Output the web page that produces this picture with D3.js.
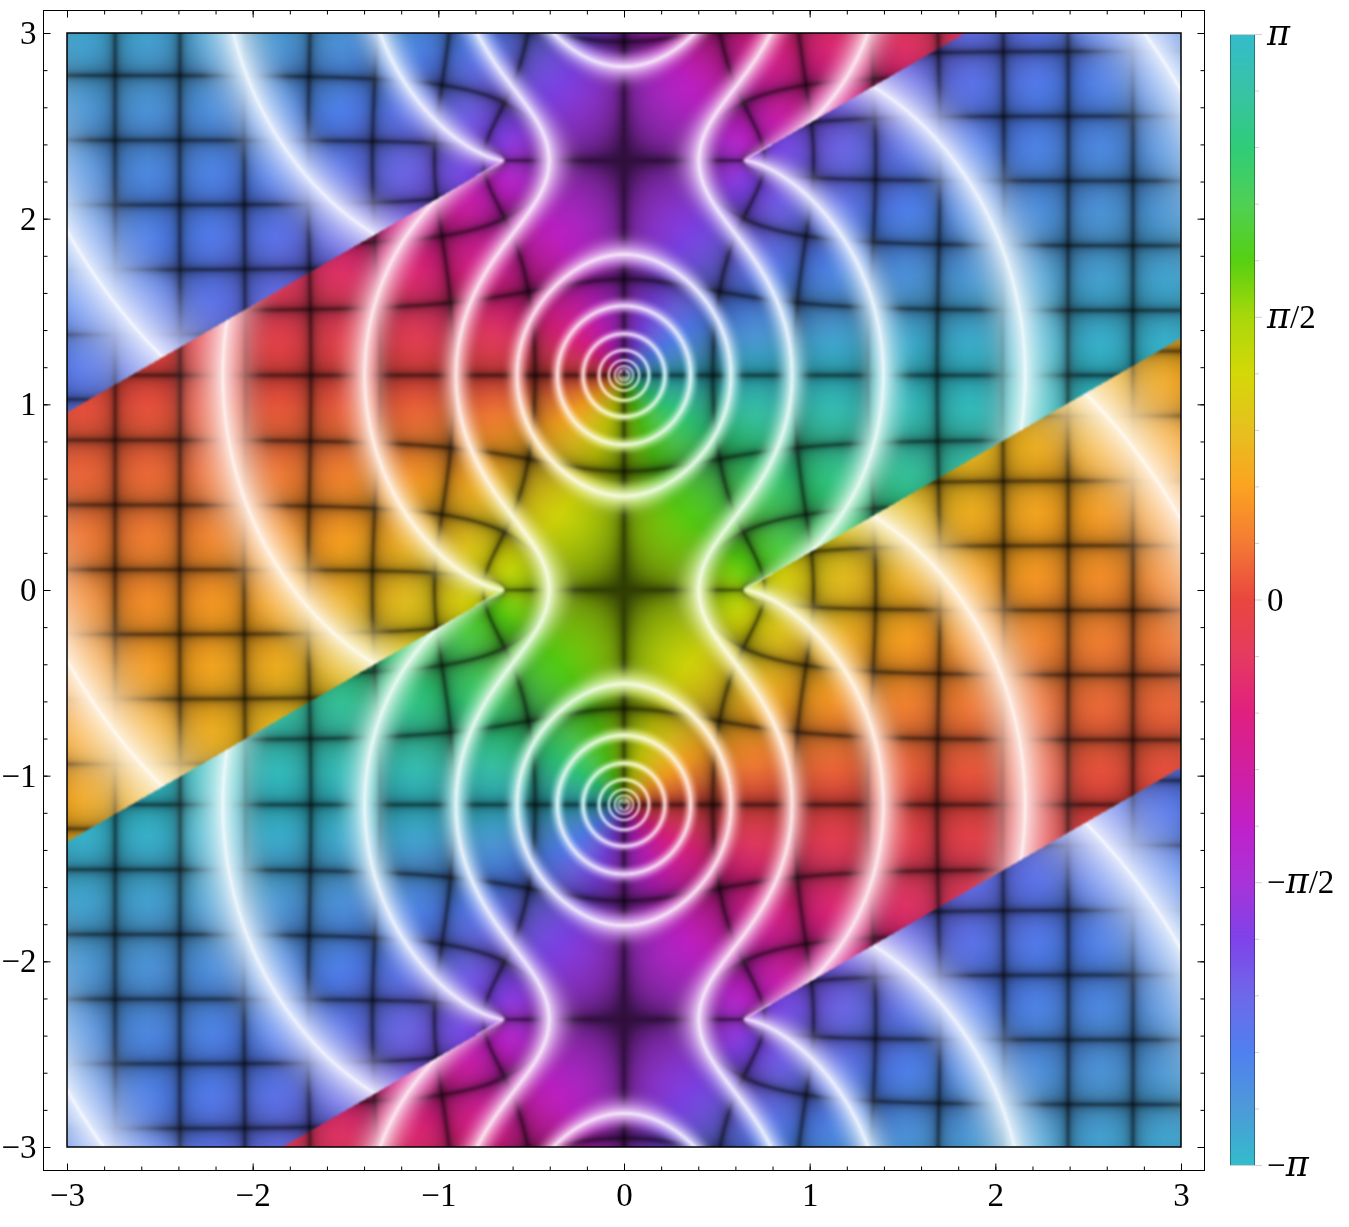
<!DOCTYPE html>
<html lang="en">
<head>
<meta charset="UTF-8">
<title>Complex plot</title>
<script src="https://d3js.org/d3.v7.min.js"></script>
<style>
    body { margin: 0; background: #fff; }
    #chart { position: relative; width: 1349px; height: 1227px; overflow: hidden; }
    #chart canvas, #chart svg { position: absolute; left: 0; top: 0; }
    text { font-family: "Liberation Serif", serif; fill: #000; }
</style>
</head>
<body>
<div id="chart"></div>
<script>
// values
const axisTicks = [-3, -2, -1, 0, 1, 2, 3];
const axisMinorTicks = d3.range(-15, 16).map(d => d / 5);
const argTicks = d3.range(-10, 11).map(d => d * Math.PI / 10);
const argLabels = [
    [Math.PI, "", "/"],
    [Math.PI / 2, "", "/2"],
    [0, "", "0"],
    [-Math.PI / 2, "−", "/2"],
    [-Math.PI, "−", "/"]
];
const argStops = [-1, -0.9, -0.8, -0.7, -0.6, -0.5, -0.4, -0.3, -0.2, -0.1, 0, 0.1, 0.2, 0.3, 0.4, 0.5, 0.6, 0.7, 0.8, 0.9, 1].map(d => d * Math.PI);
const argColors = ["#33bccc", "#4d9ad8", "#5080f0", "#6e68ea", "#7f42ea", "#a833d8", "#c020c8", "#d01fa0", "#e02080", "#e53a60",
    "#e9463f", "#f47a35", "#fba320", "#e6c01f", "#d4d808", "#a8d80a", "#55d012", "#4fd055", "#2fcc78", "#38c3a6", "#33bccc"];

// the surface: branch points, their cuts and the contour spacing seen in the plot
const branchX = 0.65;
const zeroSpacing = 2.313;
const branchY = [-zeroSpacing, 0, zeroSpacing];
const cutSlope = Math.tan(Math.PI / 6);
const gridStep = 0.349;
const gridDrift = 0.042;
const ringStep = 0.5;

const frame = { left: 43.5, right: 1204.5, top: 10.5, bottom: 1170.5 };
const x = d3.scaleLinear().domain([-3, 3]).range([67, 1181]);
const y = d3.scaleLinear().domain([-3, 3]).range([1147, 33]);
const barY = d3.scaleLinear().domain([-Math.PI, Math.PI]).range([1165, 34]);
const colorScale = d3.scaleLinear().domain(argStops).range(argColors).interpolate(d3.interpolateRgb);

const lut = d3.range(2048).map(i => d3.rgb(colorScale(-Math.PI + 2 * Math.PI * i / 2047)));

const a = Math.PI / zeroSpacing;
const c = 1 / Math.cosh(a * branchX);
const ringBase = zeroSpacing / 2;

// which sheet of the arcsine a point is on, given the tilted cuts
function sheet(px, py) {
    for (const y0 of branchY) {
        const k = y0 === 0 ? 1 : -1;
        if (px > branchX && py > y0 && py < y0 + (px - branchX) * cutSlope) return k;
        if (px < -branchX && py < y0 && py > y0 + (px + branchX) * cutSlope) return k;
    }
    return 0;
}

function field(px, py) {
    const sr = c * Math.cosh(a * px) * Math.cos(a * py);
    const si = c * Math.sinh(a * px) * Math.sin(a * py);
    const r = Math.hypot(sr + 1, si), s = Math.hypot(sr - 1, si);
    const A = Math.max(1, (r + s) / 2);
    let wr = Math.asin(Math.max(-1, Math.min(1, sr / A)));
    let wi = (si < 0 ? -1 : 1) * Math.log(A + Math.sqrt(A * A - 1));
    const k = sheet(px, py);
    if (k !== 0) { wr = -wr + k * Math.PI; wi = -wi; }
    return [-wi / a, wr / a];
}

function bright(v) {
    const q = v / gridStep;
    const t = Math.abs(q - Math.round(q));
    return 1 - 0.33 * Math.exp(-t / 0.03) - 0.38 * Math.exp(-t / 0.16);
}

// vertical grid lines sit a little further out than the plain real part
function drift(u) {
    const t = Math.max(0, Math.min(1, (Math.abs(u) - 0.35) / 1.05));
    return u - Math.sign(u) * gridDrift * t * t * (3 - 2 * t);
}

const chart = d3.select("#chart");

// surface
const w = 1114, h = 1114;
const canvas = chart.append("canvas").attr("width", 1349).attr("height", 1227).node();
const buffer = document.createElement("canvas");
buffer.width = w; buffer.height = h;
const bctx = buffer.getContext("2d");
const img = bctx.createImageData(w, h);
const logs = new Float32Array((w + 1) * (h + 1));
const fre = new Float32Array((w + 1) * (h + 1));
const fim = new Float32Array((w + 1) * (h + 1));
for (let j = 0; j <= h; j++) {
    const py = y.invert(33 + j + 0.5);
    for (let i = 0; i <= w; i++) {
        const f = field(x.invert(67 + i + 0.5), py);
        const n = j * (w + 1) + i;
        fre[n] = f[0]; fim[n] = f[1];
        logs[n] = Math.log(Math.hypot(f[0], f[1]) + 1e-9);
    }
}
for (let j = 0; j < h; j++) {
    for (let i = 0; i < w; i++) {
        const n = j * (w + 1) + i;
        const arg = Math.atan2(fim[n], fre[n]);
        const col = lut[Math.round((arg + Math.PI) / (2 * Math.PI) * 2047)];
        const q = (logs[n] - Math.log(ringBase)) / ringStep;
        const d = Math.abs(q - Math.round(q));
        const shade = bright(drift(fre[n])) * bright(fim[n]);
        const dark = 1 - (1 - shade) * Math.min(1, d / 0.22);
        let dx = logs[n + 1] - logs[n], dy = logs[n + w + 1] - logs[n];
        if (Math.abs(dx) > 0.2) dx = 0;
        if (Math.abs(dy) > 0.2) dy = 0;
        const grad = Math.max(Math.hypot(dx, dy), 1e-4);
        const distPx = d * ringStep / grad;
        const lineW = 0.8 + 0.0035 / grad;
        const halo = d < 0.32 ? 0.85 * Math.pow(1 - d / 0.32, 2) : 0;
        const white = Math.max(halo, Math.exp(-(distPx * distPx) / (lineW * lineW)));
        const m = (n - j) * 4;
        img.data[m] = col.r * dark * (1 - white) + 255 * white;
        img.data[m + 1] = col.g * dark * (1 - white) + 255 * white;
        img.data[m + 2] = col.b * dark * (1 - white) + 255 * white;
        img.data[m + 3] = 255;
    }
}
bctx.putImageData(img, 0, 0);
const ctx = canvas.getContext("2d");
ctx.drawImage(buffer, 67, 33);
ctx.filter = "blur(1px)";
ctx.drawImage(buffer, 67, 33);
ctx.filter = "none";
ctx.clearRect(0, 0, 1349, 33);
ctx.clearRect(0, 1147, 1349, 80);
ctx.clearRect(0, 0, 67, 1227);
ctx.clearRect(1181, 0, 168, 1227);

// colour bar
for (let py = 34; py < 1165; py++) {
    ctx.fillStyle = colorScale(barY.invert(py + 0.5));
    ctx.fillRect(1230, py, 25, 1);
    ctx.fillStyle = d3.color(colorScale(barY.invert(py + 0.5))).darker(1.2).formatHex();
    ctx.fillRect(1230, py, 1, 1);
    ctx.fillRect(1254, py, 1, 1);
}

const svg = chart.append("svg").attr("width", 1349).attr("height", 1227);

svg.append("rect")
    .attr("x", 67).attr("y", 33).attr("width", 1114).attr("height", 1114)
    .attr("fill", "none").attr("stroke", "#000").attr("stroke-width", 1.5);

svg.append("rect")
    .attr("x", frame.left).attr("y", frame.top)
    .attr("width", frame.right - frame.left).attr("height", frame.bottom - frame.top)
    .attr("fill", "none").attr("stroke", "#000").attr("stroke-width", 1);

const fmt = d => String(d).replace("-", "−");

function addAxis(axisFn, scale, transform, padding) {
    svg.append("g").attr("transform", transform)
        .call(axisFn(scale).tickValues(axisMinorTicks).tickSize(-4).tickFormat(""))
        .call(g => g.select(".domain").remove());
    const major = svg.append("g").attr("transform", transform)
        .call(axisFn(scale).tickValues(axisTicks).tickSize(-7).tickPadding(padding).tickFormat(padding ? fmt : ""))
        .call(g => g.select(".domain").remove());
    major.selectAll("text").attr("font-size", 33).attr("font-family", "Liberation Serif, serif");
}
addAxis(d3.axisBottom, x, `translate(0,${frame.bottom})`, 12);
addAxis(d3.axisTop, x, `translate(0,${frame.top})`, 0);
addAxis(d3.axisLeft, y, `translate(${frame.left},0)`, 7);
addAxis(d3.axisRight, y, `translate(${frame.right},0)`, 0);

// colour bar ticks and labels
svg.append("g").selectAll("line").data(argTicks).join("line")
    .attr("x1", d => Math.abs(d) > 3.14 ? 1230 : 1255)
    .attr("x2", d => Math.abs(d / (Math.PI / 2) % 1) < 1e-6 ? 1262 : 1259)
    .attr("y1", d => barY(d) + 0.5).attr("y2", d => barY(d) + 0.5)
    .attr("stroke", "#cfcfcf").attr("stroke-width", 1);

const barLabels = svg.append("g").selectAll("text").data(argLabels).join("text")
    .attr("x", 1267)
    .attr("y", d => barY(d[0]) + 11)
    .attr("font-size", 33);
barLabels.append("tspan").text(d => d[1]);
barLabels.filter(d => d[2] !== "0").append("tspan")
    .attr("font-family", "DejaVu Serif, serif").attr("font-style", "italic").attr("font-size", 35)
    .text("π");
barLabels.filter(d => d[2] !== "/").append("tspan").text(d => d[2]);
</script>
</body>
</html>
